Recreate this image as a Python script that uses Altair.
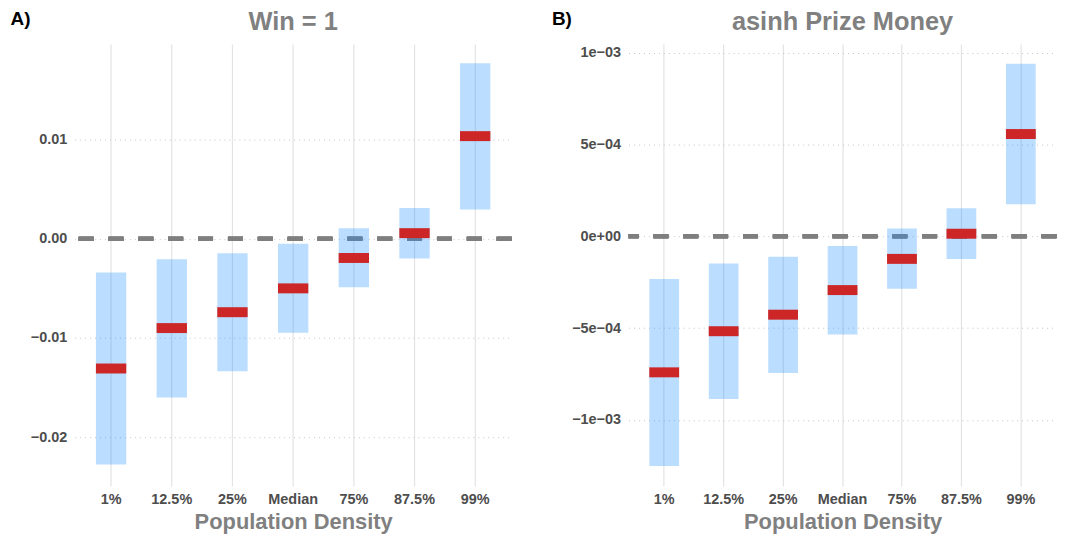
import altair as alt
import pandas as pd

categories = ["1%", "12.5%", "25%", "Median", "75%", "87.5%", "99%"]

# Panel A: Win = 1
a_est = [-0.01307, -0.0090, -0.0074, -0.0050, -0.00194, 0.00056, 0.01033]
a_low = [-0.02274, -0.0160, -0.01334, -0.00947, -0.0049, -0.0020, 0.00293]
a_high = [-0.0034, -0.00207, -0.00147, -0.0005, 0.00106, 0.0031, 0.01766]
a_ticks = [-0.02, -0.01, 0.0, 0.01]

# Panel B: asinh Prize Money
b_est = [-0.000741, -0.000517, -0.000427, -0.000293, -0.000123, 0.000014, 0.000557]
b_low = [-0.001251, -0.000886, -0.000745, -0.000535, -0.000286, -0.000123, 0.000174]
b_high = [-0.000233, -0.000148, -0.000112, -0.000053, 0.000042, 0.000153, 0.000940]
b_ticks = [-0.001, -0.0005, 0.0, 0.0005, 0.001]
b_tick_labels = ["−1e−03", "−5e−04", "0e+00", "5e−04", "1e−03"]

FONT = "Liberation Sans"
BLUE = "#1E90FF"
RED = "#CD2626"


def panel(est, low, high, domain, ticks, label_expr, title, tag, tag_x, width, tick_size):
    df = pd.DataFrame({"cat": categories, "est": est, "low": low, "high": high})
    xenc = alt.X(
        "cat:N",
        sort=categories,
        scale=alt.Scale(paddingInner=0, paddingOuter=0.1),
        axis=alt.Axis(
            title="Population Density",
            labelAngle=0,
            labelFont=FONT,
            labelFontSize=14.5,
            labelFontWeight="bold",
            labelColor="#4d4d4d",
            labelPadding=7,
            titleFont=FONT,
            titleFontSize=22,
            titleFontWeight="bold",
            titleColor="#808080",
            titleBaseline="alphabetic",
            titleY=42.5,
            grid=True,
            gridColor="#e3e3e3",
            gridWidth=1.2,
            bandPosition=0.5,
            domain=False,
            ticks=False,
        ),
    )
    yscale = alt.Scale(domain=domain, nice=False, zero=False)
    yaxis = alt.Axis(
        values=ticks,
        labelExpr=label_expr,
        labelFont=FONT,
        labelFontSize=14.5,
        labelFontWeight="bold",
        labelColor="#4d4d4d",
        labelPadding=8,
        grid=True,
        gridColor="#c4c4c4",
        gridWidth=1,
        gridDash=[1, 4],
        domain=False,
        ticks=False,
        title=tag,
        titleAngle=0,
        titleX=tag_x,
        titleY=-35,
        titleAlign="left",
        titleBaseline="top",
        titleFont=FONT,
        titleFontSize=19,
        titleFontWeight="bold",
        titleColor="#000000",
    )
    base = alt.Chart(df)
    zero = base.mark_rule(color="#7f7f7f", strokeWidth=4, strokeDash=[15, 15]).encode(
        y=alt.datum(0, scale=yscale)
    )
    bars = base.mark_bar(color=BLUE, opacity=0.3, width=alt.RelativeBandSize(0.5)).encode(
        x=xenc,
        y=alt.Y("low:Q", scale=yscale, axis=yaxis),
        y2="high:Q",
    )
    ticks_m = base.mark_tick(color=RED, thickness=10, size=tick_size, opacity=1).encode(
        x=alt.X("cat:N", sort=categories),
        y=alt.Y("est:Q"),
    )
    return alt.layer(zero, bars, ticks_m).properties(
        width=width,
        height=444,
        title=alt.TitleParams(
            title,
            font=FONT,
            fontSize=25.5,
            fontWeight="bold",
            color="#808080",
            anchor="middle",
            offset=-26.5,
        ),
    )


a_label = "format(datum.value, '.2f')"
b_map = "{" + ",".join(
    "'%d':'%s'" % (round(v * 10000), l) for v, l in zip(b_ticks, b_tick_labels)
) + "}"
b_label = b_map + "['' + round(datum.value * 10000)]"

pa = panel(a_est, a_low, a_high, [-0.0249, 0.0196], a_ticks, a_label,
           "Win = 1", "A)", -65, 439, 30.5)
pb = panel(b_est, b_low, b_high, [-0.00136, 0.001047], b_ticks, b_label,
           "asinh Prize Money", "B)", -77.5, 430, 30)

chart = (
    alt.hconcat(pa, pb, spacing=37.5)
    .resolve_scale(y="independent")
    .properties(padding={"left": 2, "top": 0, "right": 0, "bottom": 0}, background="white")
    .configure_view(strokeWidth=0)
)

chart.save("out.html", embed_options={"renderer": "svg", "actions": False})
